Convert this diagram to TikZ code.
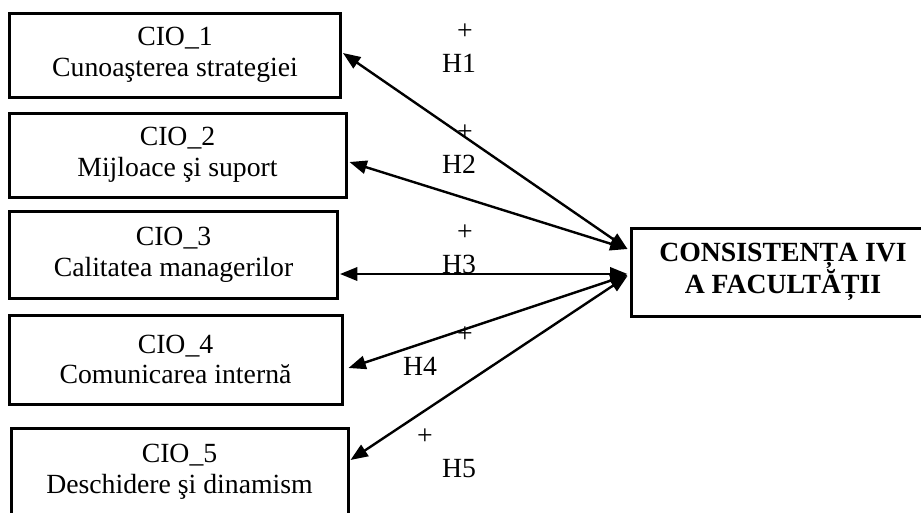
\documentclass[tikz,border=0pt]{standalone}
\usepackage{fontspec}
\setmainfont{Liberation Serif}
\usetikzlibrary{arrows.meta,calc}
\begin{document}
\begin{tikzpicture}[x=0.75pt,y=-0.75pt,
  box/.style={draw,line width=2.25pt,align=center,inner sep=0pt,
    font=\fontsize{20.8}{23}\selectfont},
  lbl/.style={anchor=base,inner sep=0pt,font=\fontsize{20.8}{23}\selectfont},
  link/.style={line width=1.8pt,{Triangle[length=13pt,width=10pt]}-{Triangle[length=13pt,width=10pt]}}]
\useasboundingbox (0,0) rectangle (921,512);
\clip (0,0) rectangle (921,512);
\node[box,minimum width=248.25pt,minimum height=63pt] (b1) at (175,55) {CIO\_1\\Cunoaşterea strategiei};
\node[box,minimum width=252.75pt,minimum height=63pt] (b2) at (177.5,155) {CIO\_2\\Mijloace şi suport};
\node[box,minimum width=246pt,minimum height=65.25pt] (b3) at (173.5,254.5) {CIO\_3\\Calitatea managerilor};
\node[box,minimum width=249.75pt,minimum height=66.75pt] (b4) at (175.5,359.5) {CIO\_4\\Comunicarea internă};
\node[box,minimum width=252.75pt,minimum height=66pt] (b5) at (179.5,472) {CIO\_5\\Deschidere şi dinamism};
\node[box,minimum width=228pt,minimum height=66pt,font=\fontsize{20.8}{23}\selectfont\bfseries] (C) at (783,272) {CONSISTENȚA IVI\\A FACULTĂȚII};
\draw[link] ($(b1.east)+(1,-2)$) -- ($(C.west)+(-2,-23)$);
\draw[link] ($(b2.east)+(2,7)$) -- ($(C.west)+(-2,-23)$);
\draw[link] ($(b3.east)+(1,19.5)$) -- ($(C.west)+(-2,2)$);
\draw[link] ($(b4.east)+(5,8.5)$) -- ($(C.west)+(-2,3)$);
\draw[link] ($(b5.east)+(1,-12)$) -- ($(C.west)+(-2,4)$);
\node[lbl] (p1) at (465,39) {+};
\node[lbl] (h1) at (459,72) {H1};
\node[lbl] (p2) at (465,140) {+};
\node[lbl] (h2) at (459,173) {H2};
\node[lbl] (p3) at (465,240) {+};
\node[lbl] (h3) at (459,273) {H3};
\node[lbl] (p4) at (465,342) {+};
\node[lbl] (h4) at (420,375) {H4};
\node[lbl] (p5) at (425,444) {+};
\node[lbl] (h5) at (459,477) {H5};
\end{tikzpicture}
\end{document}
